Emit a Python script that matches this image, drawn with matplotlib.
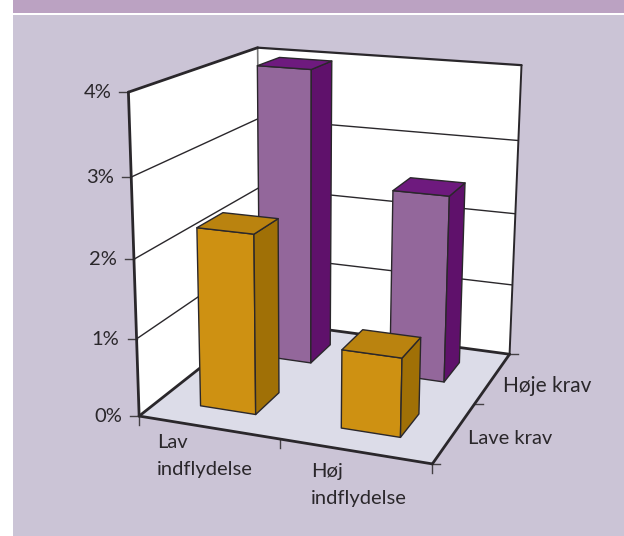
import numpy as np
import matplotlib
matplotlib.use("Agg")
import matplotlib.pyplot as plt
from matplotlib.patches import Polygon, Rectangle

# --- data ---
influence_labels = ["Lav\nindflydelse", "Høj\nindflydelse"]
demand_labels = ["Lave krav", "Høje krav"]
value_ticks = [0, 1, 2, 3, 4]
low_demand_values = [2.3, 1.0]
high_demand_values = [3.98, 2.5]

# --- style ---
PANEL = "#CBC4D6"; BAND = "#BBA2C2"; FLOOR = "#DCDCE8"; INK = "#2A272B"
ORANGE = ("#CE9112", "#BA830F", "#A07006")
PURPLE = ("#93679B", "#6E1A7E", "#5F116B")
HALF = 0.2
FONT = "Lato"
FS = 14.5

# --- perspective camera: world (influence, demand, percent) -> pixels
P = np.array([[131.426201, 85.949501, -4.655675, 139.142132],
              [7.639595, -16.192415, -82.390549, 416.053254],
              [-0.035106, 0.098225, -0.015368, 1.0]])

def proj(x, y, z):
    h = P @ np.array([x, y, z, 1.0])
    return h[:2] / h[2]

fig = plt.figure(figsize=(6.24, 5.36), dpi=100, facecolor="white")
ax = fig.add_axes([0, 0, 1, 1])
ax.set_xlim(0, 624); ax.set_ylim(536, 0); ax.axis("off")

ax.add_patch(Rectangle((13, 15), 611, 521, fc=PANEL, ec="none", zorder=0))
ax.add_patch(Rectangle((13, 0), 611, 13, fc=BAND, ec="none", zorder=0))

def poly(pts, fc, z, ec=INK, lw=1.0):
    ax.add_patch(Polygon([proj(*p) for p in pts], closed=True, fc=fc, ec=ec, lw=lw,
                         joinstyle="round", zorder=z))

def line(a, b, lw, z=3, color=INK):
    pa, pb = proj(*a), proj(*b)
    ax.plot([pa[0], pb[0]], [pa[1], pb[1]], color=color, lw=lw, zorder=z,
            solid_capstyle="round")

X1 = Y1 = 2.0
Z1 = max(value_ticks)
# walls and floor
poly([(0, 0, 0), (0, Y1, 0), (0, Y1, Z1), (0, 0, Z1)], "white", 1, ec="none")
poly([(0, Y1, 0), (X1, Y1, 0), (X1, Y1, Z1), (0, Y1, Z1)], "white", 1, ec="none")
poly([(0, 0, 0), (X1, 0, 0), (X1, Y1, 0), (0, Y1, 0)], FLOOR, 1, ec="none")
# gridlines
for v in value_ticks[1:-1]:
    line((0, 0, v), (0, Y1, v), 1.0, 2)
    line((0, Y1, v), (X1, Y1, v), 1.0, 2)
# wall and floor outline
line((0, Y1, 0), (0, Y1, Z1), 1.2, 2, "#777777")
line((0, 0, 0), (0, 0, Z1), 2.0)
line((0, 0, Z1), (0, Y1, Z1), 2.0)
line((0, Y1, Z1), (X1, Y1, Z1), 1.6)
line((X1, Y1, Z1), (X1, Y1, 0), 1.4)
line((0, 0, 0), (X1, 0, 0), 2.0, 3)
line((X1, 0, 0), (X1, Y1, 0), 2.0, 3)
line((0, 0, 0), (0, Y1, 0), 2.0, 2)
line((0, Y1, 0), (X1, Y1, 0), 2.0, 2)

# bars, back to front
def bar(xc, yc, h, cols, z):
    x0, x1, y0, y1 = xc - HALF, xc + HALF, yc - HALF, yc + HALF
    front, top, side = cols
    poly([(x0, y0, 0), (x1, y0, 0), (x1, y0, h), (x0, y0, h)], front, z)
    poly([(x1, y0, 0), (x1, y1, 0), (x1, y1, h), (x1, y0, h)], side, z)
    poly([(x0, y0, h), (x1, y0, h), (x1, y1, h), (x0, y1, h)], top, z)

bar(0.5, 1.5, high_demand_values[0], PURPLE, 4)
bar(1.5, 1.5, high_demand_values[1], PURPLE, 5)
bar(0.5, 0.5, low_demand_values[0], ORANGE, 6)
bar(1.5, 0.5, low_demand_values[1], ORANGE, 7)

# ticks and labels
tick_kw = dict(color="#444044", lw=1.0, zorder=2.5)
for v in value_ticks:
    x, y = proj(0, 0, v)
    ax.plot([x - 9, x], [y, y], **tick_kw)
    ax.text(x - 17, y + 0.5, f"{v}%", ha="right", va="center", fontsize=FS,
            family=FONT, color=INK)
for xv in range(3):
    x, y = proj(xv, 0, 0)
    ax.plot([x, x], [y, y + 9], **tick_kw)
for yv in range(3):
    x, y = proj(X1, yv, 0)
    ax.plot([x, x + 8], [y, y], **tick_kw)

for i, lab in enumerate(influence_labels):
    ax.text([157, 311][i], [434, 463][i], lab, ha="left", va="top", fontsize=FS,
            family=FONT, color=INK, linespacing=1.69)
for i, lab in enumerate(demand_labels):
    ax.text([468, 503][i], [438, 386][i], lab, ha="left", va="center",
            fontsize=[FS, 15][i], family=FONT, color=INK)

fig.savefig("out.png", dpi=100)
